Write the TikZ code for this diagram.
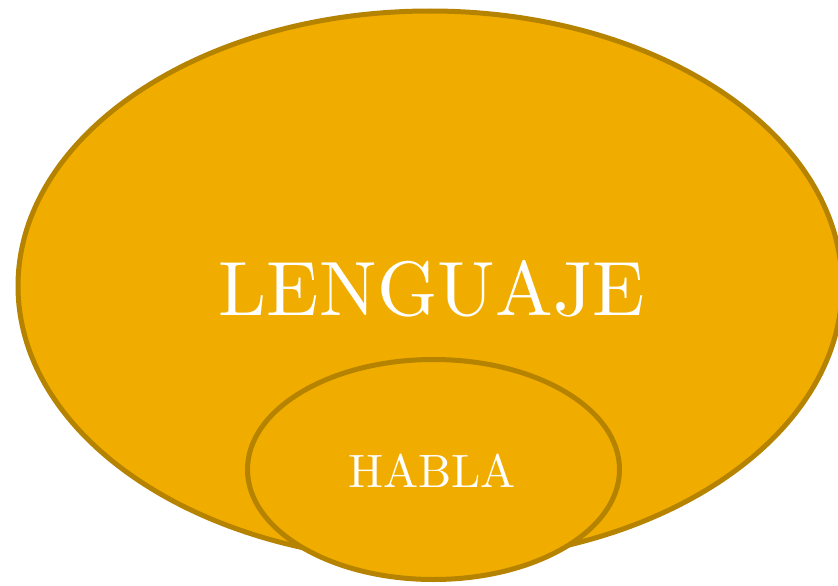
\documentclass[tikz,border=0pt]{standalone}
\usepackage{xcolor}
\usepackage{graphicx}
\usepackage{tikz}
\usetikzlibrary{positioning}
\usetikzlibrary{shapes.geometric}

\definecolor{oro}{RGB}{240,173,0}
\definecolor{borde}{RGB}{181,131,0}

\begin{document}
\begin{tikzpicture}
      [x=1pt,y=-1pt,
       conjunto/.style={ellipse,draw=borde,fill=oro,line width=5pt,inner sep=0pt},
       rotulo/.style={text=white,anchor=base,inner sep=0pt,font=\fontsize{10}{12}\selectfont}]
    \useasboundingbox (0,0) rectangle (838,586);
    \node[conjunto,minimum width=824pt,minimum height=550pt]  (L)  at (430,286) {};
    \node[conjunto,minimum width=372pt,minimum height=220pt]  (H)  at (433.5,469.5) {};

    \node[rotulo]  (Ltxt)  at (432,315) {\scalebox{7.7}{LENGUAJE}};
    \node[rotulo]  (Htxt)  at (432,487) {\scalebox{4.68}{HABLA}};
    \end{tikzpicture}
\end{document}
